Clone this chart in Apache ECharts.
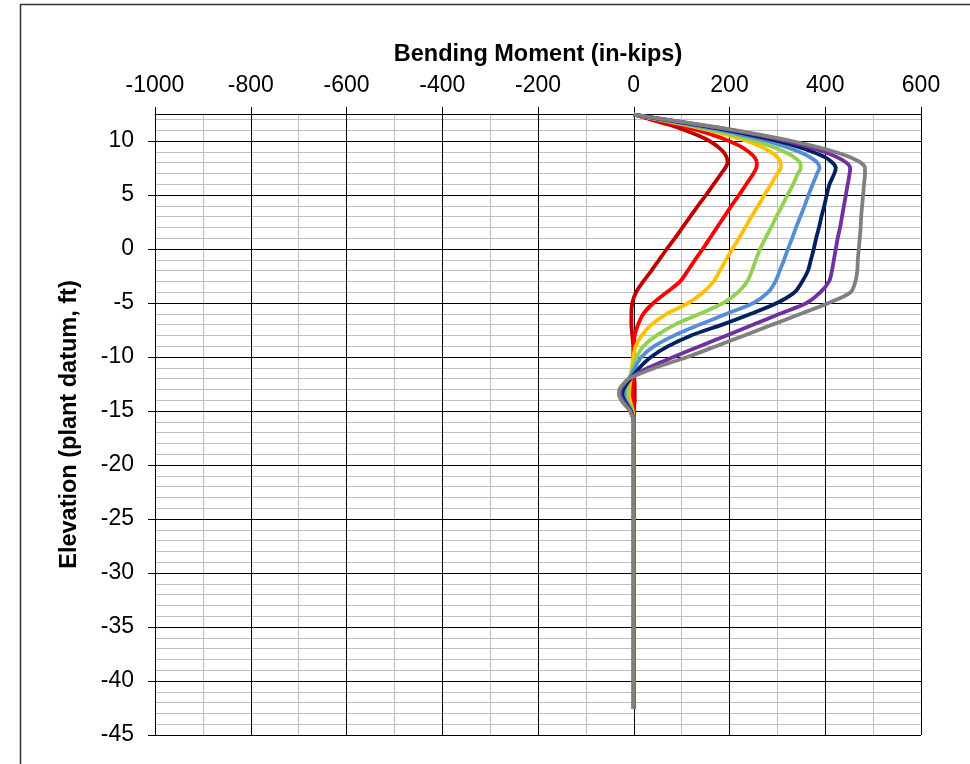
<!DOCTYPE html>
<html>
<head>
<meta charset="utf-8">
<script src="https://cdn.jsdelivr.net/npm/echarts@6/dist/echarts.min.js"></script>
<style>
html,body{margin:0;padding:0;background:#fff;}
#chart{width:970px;height:764px;}
</style>
</head>
<body>
<div id="chart"></div>
<script>
// Elevation (ft) shared by all series
const ELEV = [12.45, 12, 11.5, 11, 10.5, 10, 9.5, 9, 8.5, 8, 7.5, 7, 6, 5, 4, 3, 2, 1, 0, -1, -2, -3, -4, -5, -6, -7, -8, -9, -10, -11, -12, -12.5, -13, -13.5, -14, -14.5, -15, -16, -17, -18, -20, -25, -30, -35, -40, -42.6];

// Bending moment (in-kips) per case, aligned to ELEV
const M_DARKRED = [0, 35, 74, 107, 135, 158, 175, 187, 194, 196, 191, 183, 167, 151, 134, 118, 102, 86, 69, 53, 37, 20, 5, -3, -5, -5, -3, -1, 0, 0, 1, 2, 2, 2, 2, 1, 1, 0, 0, 0, 0, 0, 0, 0, 0, 0];
const M_RED     = [0, 43, 91, 133, 169, 199, 223, 240, 252, 257, 256, 250, 235, 220, 204, 189, 174, 159, 144, 128, 113, 97, 69, 41, 20, 9, 2, 0, -1, -1, -2, -2, -3, -3, -2, -1, 0, 0, 0, 0, 0, 0, 0, 0, 0, 0];
const M_ORANGE  = [0, 51, 108, 157, 200, 236, 265, 286, 300, 307, 307, 300, 287, 273, 260, 246, 233, 220, 206, 193, 180, 167, 145, 114, 69, 37, 17, 4, -1, -4, -6, -8, -9, -10, -8, -5, -2, 0, 0, 0, 0, 0, 0, 0, 0, 0];
const M_GREEN   = [0, 52, 112, 166, 213, 254, 288, 315, 335, 347, 349, 343, 333, 321, 310, 298, 287, 275, 264, 255, 247, 237, 218, 187, 138, 86, 48, 20, 6, -2, -9, -12, -14, -15, -13, -8, -4, 0, 0, 0, 0, 0, 0, 0, 0, 0];
const M_BLUE    = [0, 57, 122, 181, 233, 278, 315, 345, 368, 383, 388, 383, 374, 365, 357, 348, 339, 331, 322, 314, 305, 296, 281, 250, 194, 138, 85, 43, 16, 2, -9, -15, -19, -20, -17, -11, -5, 0, 0, 0, 0, 0, 0, 0, 0, 0];
const M_NAVY    = [0, 61, 132, 195, 251, 300, 341, 373, 399, 415, 422, 419, 409, 403, 398, 392, 387, 381, 376, 370, 364, 352, 336, 299, 245, 185, 120, 72, 36, 12, -6, -15, -22, -24, -20, -13, -6, 0, 0, 0, 0, 0, 0, 0, 0, 0];
const M_PURPLE  = [0, 65, 139, 206, 265, 317, 361, 397, 425, 444, 452, 451, 447, 443, 439, 435, 431, 426, 422, 418, 414, 408, 390, 361, 305, 250, 194, 138, 83, 30, -10, -20, -27, -28, -23, -15, -7, 0, 0, 0, 0, 0, 0, 0, 0, 0];
const M_GRAY    = [0, 66, 141, 211, 274, 330, 378, 419, 452, 474, 483, 483, 481, 479, 477, 475, 474, 472, 470, 468, 467, 463, 453, 407, 349, 290, 231, 172, 112, 45, -10, -22, -30, -31, -26, -17, -8, 0, 0, 0, 0, 0, 0, 0, 0, 0];

const SERIES_VALUES = [M_DARKRED, M_RED, M_ORANGE, M_GREEN, M_BLUE, M_NAVY, M_PURPLE, M_GRAY];
const SERIES_COLORS = ['#C00000', '#FF0000', '#FFC000', '#92D050', '#558ED5', '#002060', '#7030A0', '#808080'];

const X_TITLE = 'Bending Moment (in-kips)';
const Y_TITLE = 'Elevation (plant datum, ft)';
const Y_TICKS = [-45, -40, -35, -30, -25, -20, -15, -10, -5, 0, 5, 10];

const chart = echarts.init(document.getElementById('chart'), null, {renderer: 'canvas'});
const FONT = 'Liberation Sans, Arial, sans-serif';

const series = SERIES_VALUES.map((vals, i) => ({
  type: 'line',
  xAxisIndex: 1,
  yAxisIndex: 1,
  data: vals.map((m, k) => [m, ELEV[k]]),
  showSymbol: false,
  symbol: 'none',
  smooth: 0.3,
  lineStyle: {color: SERIES_COLORS[i], width: 3.8},
  itemStyle: {color: SERIES_COLORS[i]},
  z: 2 + i * 0.01,
  animation: false
}));

chart.setOption({
  animation: false,
  backgroundColor: '#fff',
  graphic: [{
    type: 'rect',
    shape: {x: 20.5, y: 4.5, width: 1000, height: 1000},
    style: {fill: 'none', stroke: '#333', lineWidth: 1.5},
    z: -10,
    silent: true
  }],
  grid: {left: 155, top: 114, right: 49, bottom: 29, containLabel: false, outerBoundsMode: 'none'},
  xAxis: [
    {
      type: 'value', position: 'top', min: -1000, max: 600, interval: 100, z: 0,
      axisLine: {show: false}, axisTick: {show: false}, axisLabel: {show: false},
      splitLine: {show: true, lineStyle: {color: '#bfbfbf', width: 1}}
    },
    {
      type: 'value', position: 'top', min: -1000, max: 600, interval: 200, z: 1,
      name: X_TITLE, nameLocation: 'middle', nameGap: 47,
      nameTextStyle: {fontFamily: FONT, fontSize: 23.5, fontWeight: 'bold', color: '#000'},
      axisLine: {show: true, onZero: false, lineStyle: {color: '#000', width: 1}},
      axisTick: {show: true, inside: false, length: 7, lineStyle: {color: '#000'}},
      axisLabel: {fontFamily: FONT, fontSize: 23, color: '#000', margin: 17, formatter: v => String(v)},
      splitLine: {show: true, lineStyle: {color: '#000', width: 1}}
    }
  ],
  yAxis: [
    {
      type: 'value', position: 'left', min: -45, max: 12.5, interval: 1, z: 0,
      axisLine: {show: false}, axisTick: {show: false}, axisLabel: {show: false},
      splitLine: {show: true, lineStyle: {color: '#bfbfbf', width: 1}}
    },
    {
      type: 'value', position: 'left', min: -45, max: 12.5, interval: 5, z: 1,
      name: Y_TITLE, nameLocation: 'middle', nameGap: 73, nameRotate: 90,
      nameTextStyle: {fontFamily: FONT, fontSize: 23.5, fontWeight: 'bold', color: '#000'},
      axisLine: {show: true, onZero: false, lineStyle: {color: '#000', width: 1}},
      axisTick: {show: true, inside: false, length: 7, lineStyle: {color: '#000'}, customValues: Y_TICKS},
      axisLabel: {fontFamily: FONT, fontSize: 23, color: '#000', margin: 21, customValues: Y_TICKS, formatter: v => String(v)},
      splitLine: {show: true, lineStyle: {color: '#000', width: 1}}
    }
  ],
  series: series
});
</script>
</body>
</html>
